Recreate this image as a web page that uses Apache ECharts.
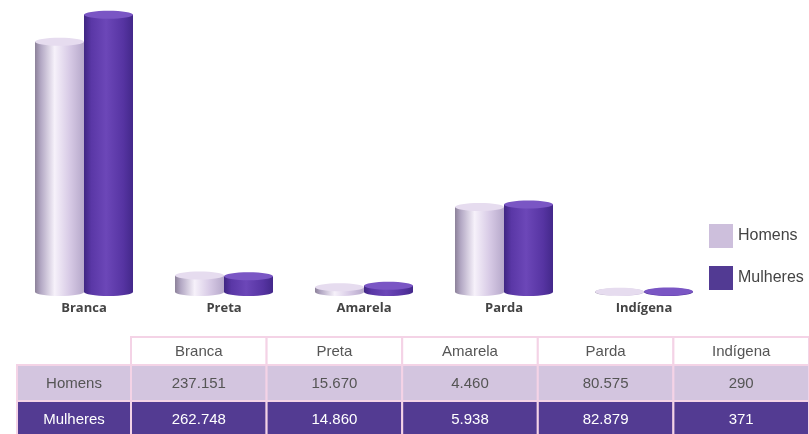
<!DOCTYPE html>
<html>
<head>
<meta charset="utf-8">
<script src="https://cdn.jsdelivr.net/npm/echarts@6/dist/echarts.min.js"></script>
<style>
  html, body { margin: 0; padding: 0; background: #fff; }
  #chart { width: 809px; height: 434px; }
</style>
</head>
<body>
<div id="chart"></div>
<script>
var categories = ['Branca', 'Preta', 'Amarela', 'Parda', 'Indígena'];
var homens = [237151, 15670, 4460, 80575, 290];
var mulheres = [262748, 14860, 5938, 82879, 371];
var seriesNames = ['Homens', 'Mulheres'];

var chart = echarts.init(document.getElementById('chart'));

function fmt(v) {
  return String(v).replace(/\B(?=(\d{3})+(?!\d))/g, '.');
}

// cilindro: corpo com gradiente + elipses em cima e embaixo
function cylinder(side, bodyStops, topColor) {
  return function (params, api) {
    var idx = api.value(0);
    var top = api.coord([idx, api.value(1)]);
    var base = api.coord([idx, 0]);
    var band = api.size([1, 0])[0];
    var w = band * 0.35;
    var cx = top[0] + side * w / 2;
    var ry = 4;
    var grad = new echarts.graphic.LinearGradient(0, 0, 1, 0, bodyStops);
    return {
      type: 'group',
      children: [
        { type: 'ellipse', shape: { cx: cx, cy: base[1], rx: w / 2, ry: ry }, style: { fill: grad } },
        { type: 'rect', shape: { x: cx - w / 2, y: top[1], width: w, height: base[1] - top[1] }, style: { fill: grad } },
        { type: 'ellipse', shape: { cx: cx, cy: top[1], rx: w / 2, ry: ry }, style: { fill: topColor } }
      ]
    };
  };
}

var homensStops = [
  { offset: 0, color: '#8c8199' },
  { offset: 0.12, color: '#b3a8c4' },
  { offset: 0.4, color: '#f6f1fa' },
  { offset: 0.7, color: '#d8cbe6' },
  { offset: 1, color: '#b6a8ca' }
];
var mulheresStops = [
  { offset: 0, color: '#3f2682' },
  { offset: 0.15, color: '#5a37a6' },
  { offset: 0.45, color: '#6c47b8' },
  { offset: 0.8, color: '#5634a2' },
  { offset: 1, color: '#43288a' }
];

// tabela
var tableTop = 337;
var labelX = 17;
var colX = 131;
var colW = (809 - colX) / categories.length;
var rowH = [28, 36, 36];
var border = '#f4d3e6';
var font = '15px "Liberation Sans", Arial, sans-serif';
var table = [];
var y1 = tableTop + rowH[0];
var y2 = y1 + rowH[1];
var rows = [
  { name: seriesNames[0], data: homens, y: y1, h: rowH[1], bg: '#d3c5df', color: '#555' },
  { name: seriesNames[1], data: mulheres, y: y2, h: rowH[2], bg: '#533b92', color: '#fff' }
];
categories.forEach(function (c, i) {
  var x = colX + i * colW;
  table.push({ type: 'rect', shape: { x: x, y: tableTop, width: colW, height: rowH[0] },
    style: { fill: '#fff', stroke: border, lineWidth: 2 } });
  table.push({ type: 'text', x: x + colW / 2, y: tableTop + rowH[0] / 2 + 1,
    style: { text: c, fill: '#555', font: font, align: 'center', verticalAlign: 'middle' } });
});
rows.forEach(function (r) {
  table.push({ type: 'rect', shape: { x: labelX, y: r.y, width: colX - labelX, height: r.h },
    style: { fill: r.bg, stroke: border, lineWidth: 2 } });
  table.push({ type: 'text', x: (labelX + colX) / 2, y: r.y + r.h / 2 + 1,
    style: { text: r.name, fill: r.color, font: font, align: 'center', verticalAlign: 'middle' } });
  r.data.forEach(function (v, i) {
    var x = colX + i * colW;
    table.push({ type: 'rect', shape: { x: x, y: r.y, width: colW, height: r.h },
      style: { fill: r.bg, stroke: border, lineWidth: 2 } });
    table.push({ type: 'text', x: x + colW / 2, y: r.y + r.h / 2 + 1,
      style: { text: fmt(v), fill: r.color, font: font, align: 'center', verticalAlign: 'middle' } });
  });
});

var option = {
  backgroundColor: '#fff',
  animation: false,
  grid: { left: 14, right: 95, top: 7, bottom: 142 },
  legend: {
    data: seriesNames,
    orient: 'vertical',
    left: 704,
    top: 219,
    icon: 'rect',
    itemWidth: 24,
    itemHeight: 24,
    itemGap: 18,
    itemStyle: { borderWidth: 0 },
    textStyle: { fontFamily: '"Liberation Sans", Arial, sans-serif', fontSize: 16, color: '#444' }
  },
  xAxis: {
    type: 'category',
    data: categories,
    axisLine: { show: false },
    axisTick: { show: false },
    axisLabel: {
      margin: 10,
      fontFamily: '"Open Sans", sans-serif',
      fontWeight: 'bold',
      fontSize: 13,
      color: '#444'
    }
  },
  yAxis: { type: 'value', min: 0, max: 270000, show: false },
  series: [
    {
      name: seriesNames[0],
      type: 'custom',
      itemStyle: { color: '#cdbfdc' },
      renderItem: cylinder(-1, homensStops, '#e6dcef'),
      encode: { x: 0, y: 1 },
      data: homens.map(function (v, i) { return [i, v]; })
    },
    {
      name: seriesNames[1],
      type: 'custom',
      itemStyle: { color: '#523a93' },
      renderItem: cylinder(1, mulheresStops, '#7a56c4'),
      encode: { x: 0, y: 1 },
      data: mulheres.map(function (v, i) { return [i, v]; })
    }
  ],
  graphic: table
};

chart.setOption(option);
</script>
</body>
</html>
